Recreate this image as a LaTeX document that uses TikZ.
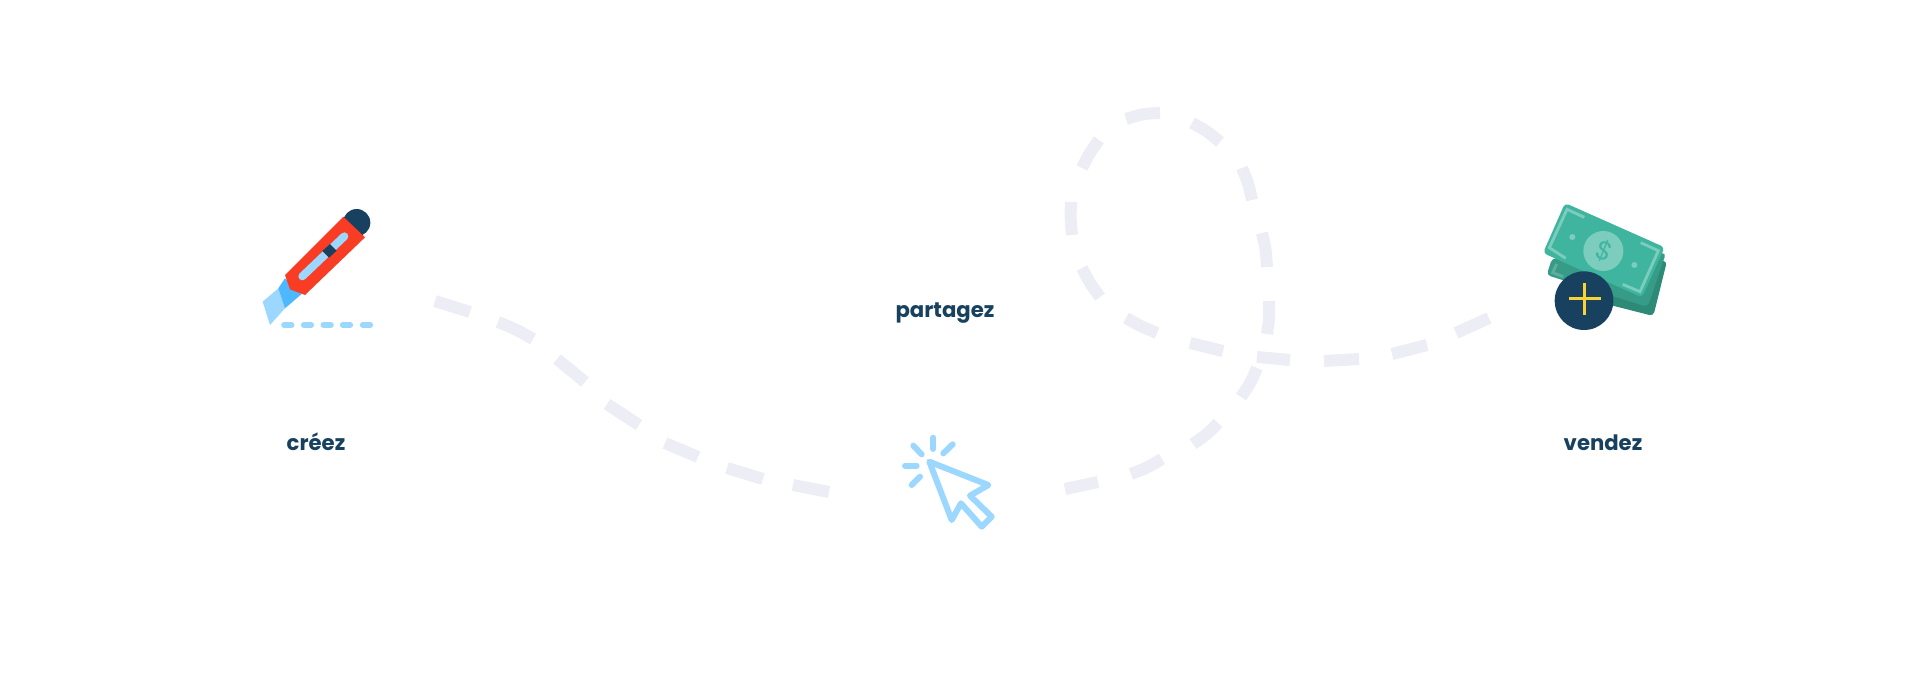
\documentclass[tikz,border=0pt]{standalone}
\usepackage{fontspec}
\setmainfont{Poppins}
\usepackage{xcolor}
\definecolor{dashGrey}{HTML}{ECEDF5}
\definecolor{inkBlue}{HTML}{17415F}
\definecolor{skyBlue}{HTML}{9BD7FF}
\definecolor{midBlue}{HTML}{4DB8FF}
\definecolor{knifeRed}{HTML}{F93D24}
\definecolor{billTop}{HTML}{3FB5A0}
\definecolor{billMid}{HTML}{369C88}
\definecolor{billBack}{HTML}{2C8A76}
\definecolor{billLight}{HTML}{7DCDBE}
\definecolor{billFaint}{HTML}{5FAE9C}
\definecolor{plusYellow}{HTML}{F9D236}

\tikzset{
  pathDash/.style={draw=dashGrey, line width=6pt},
  stepLabel/.style={font=\bfseries\fontsize{10.6}{13}\selectfont, text=inkBlue, inner sep=0pt, anchor=base},
  cursorLine/.style={draw=skyBlue, line width=3pt, line cap=round, line join=round},
  scoreLine/.style={draw=skyBlue, line width=2.8pt, line cap=round},
  billMark/.style={draw=billLight, line width=1.4pt},
}

\begin{document}
\begin{tikzpicture}[x=0.5pt, y=-0.5pt]

\useasboundingbox (0,0) rectangle (1920,697);

% dashes of the long path
\foreach \ax/\ay/\cx/\cy/\bx/\by in {
  435/301/452.7/306.3/470/312, 498/322/516.2/329.4/533/339, 557/359/571.5/369.8/585/382,
  607/404/622.6/415.2/639/425, 665/443/681.3/450.9/698/457, 727/468/744.8/474.2/763/479,
  793/485/810.8/489.2/829/492,
  1065/489/1081.7/486.2/1098/482, 1131/474/1147.2/467.6/1162/459, 1193/444/1206.6/434.6/1218/423,
  1241/397/1250.4/383.2/1257/368, 1267/334/1269.4/317.7/1269/301, 1267/267/1265.9/249.8/1262/233,
  1252/200/1248.4/183.5/1242/168, 1220/142/1206.9/131.1/1192/123, 1160/113/1142.6/113.8/1126/119,
  1099/140/1089.4/153.1/1082/168, 1071/202/1070.4/218.7/1072/235, 1082/268/1089.9/283.2/1100/297,
  1126/318/1141/326.4/1157/333, 1190/343/1206.3/347.5/1223/351, 1257/357/1273.5/359/1290/360,
  1324/361/1341.5/360.5/1359/359, 1392/354/1409.7/350.2/1427/345, 1456/333/1472.7/326.2/1489/318}
  \draw [pathDash] (\ax,\ay) .. controls (\cx,\cy) .. (\bx,\by);

% knife
\begin{scope}[shift={(240,190)}, scale=1/3]
  \fill [skyBlue] (68,335) -- (90,405) -- (135,355) -- (115,295) -- cycle;
  \fill [midBlue] (115,295) -- (135,265) -- (185,312) -- (135,355) -- cycle;
  \fill [inkBlue] (350,98) circle [radius=41];
  \fill [knifeRed] (310,80) -- (375,142) -- (195,315) -- (150,298) -- (135,255) -- cycle;
  \draw [skyBlue, line width=4pt, line cap=round] (187,259) -- (313,139);
  \fill [inkBlue] (247,183) -- (270,162) -- (290,182) -- (267,203) -- cycle;
  \foreach \sx in {132,191,250,308,368}
    \draw [scoreLine] (\sx,405) -- ++(23,0);
\end{scope}

% cursor
\begin{scope}[shift={(890,425)}, scale=1/3]
  \draw [cursorLine] (118,110) -- (295,180) -- (240,212) -- (305,275) -- (275,305) -- (213,235) -- (185,285) -- cycle;
  \foreach \ax/\ay/\bx/\by in {130/38/130/72, 70/62/95/88, 188/58/160/85, 45/122/80/122, 90/155/65/180}
    \draw [cursorLine] (\ax,\ay) -- (\bx,\by);
\end{scope}

% money
\begin{scope}[shift={(1530,190)}, scale=1/3]
  \fill [billBack, rounded corners=2pt] (411,213) -- (370,378) -- (150,322) -- (200,200) -- cycle;
  \fill [billMid, rounded corners=2pt] (66,205) -- (408,189) -- (353,351) -- (50,255) -- cycle;
  \draw [billFaint, line width=1.4pt] (80,222) -- (68,248) -- (100,260);
  \fill [billTop, rounded corners=2pt] (105,39) -- (404,172) -- (336,322) -- (39,189) -- cycle;
  \draw [billMark] (163,82) -- (111,58) -- (58,173) -- (107,205);
  \draw [billMark] (332,158) -- (385,182) -- (330,305) -- (278,283);
  \fill [billLight] (220,183) circle [radius=60];
  \fill [billLight] (127,141) circle [radius=9];
  \fill [billLight] (313,225) circle [radius=9];
  \node [font=\fontsize{13}{14}\selectfont, text=billTop, rotate=-22, inner sep=0pt] (dollarSign) at (222,183) {\$};
  \fill [inkBlue] (162,332) circle [radius=88];
  \draw [plusYellow, line width=1.6pt] (117,326) -- (212,326);
  \draw [plusYellow, line width=1.6pt] (163,280) -- (163,375);
\end{scope}

% labels
\node [stepLabel] (creezLabel) at (316,450) {créez};
\node [stepLabel] (partagezLabel) at (945,317) {partagez};
\node [stepLabel] (vendezLabel) at (1603,450) {vendez};

\end{tikzpicture}
\end{document}
